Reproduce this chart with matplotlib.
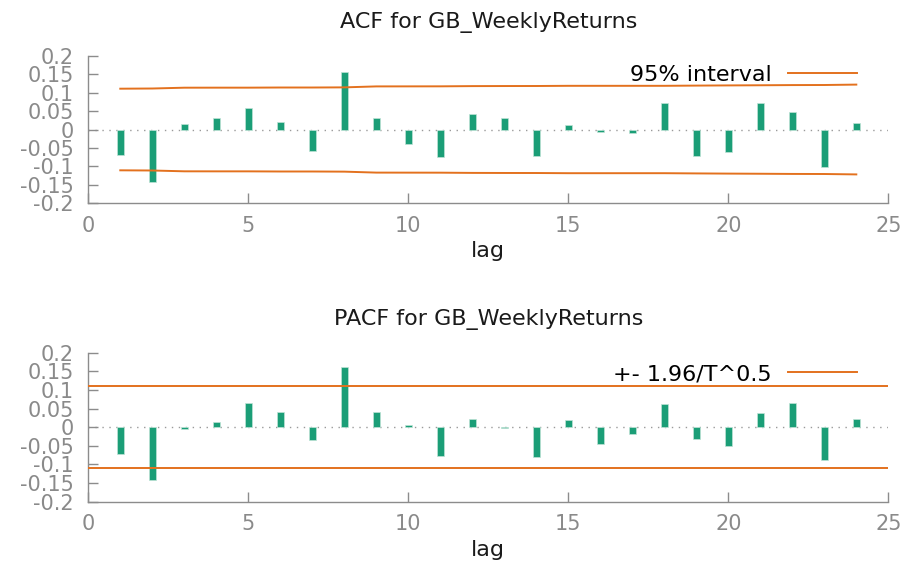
import matplotlib
matplotlib.use("Agg")
import matplotlib.pyplot as plt

lags = list(range(1, 25))
acf_values = [-0.070, -0.141, 0.016, 0.030, 0.059, 0.021, -0.057, 0.156,
              0.030, -0.038, -0.074, 0.043, 0.031, -0.071, 0.013, -0.007,
              -0.010, 0.071, -0.071, -0.061, 0.071, 0.048, -0.102, 0.017]
acf_band = [0.1106, 0.1111, 0.1133, 0.1134, 0.1134, 0.1138, 0.1138, 0.1142,
            0.1168, 0.1169, 0.1170, 0.1176, 0.1178, 0.1179, 0.1184, 0.1184,
            0.1184, 0.1184, 0.1190, 0.1195, 0.1199, 0.1204, 0.1206, 0.1217]
pacf_values = [-0.071, -0.143, -0.004, 0.013, 0.066, 0.040, -0.034, 0.163,
               0.040, 0.006, -0.077, 0.022, -0.002, -0.080, 0.020, -0.044,
               -0.017, 0.063, -0.031, -0.050, 0.037, 0.066, -0.087, 0.023]
pacf_band = 0.1095
yticks = [-0.2, -0.15, -0.1, -0.05, 0, 0.05, 0.1, 0.15, 0.2]
ytick_labels = ["-0.2", "-0.15", "-0.1", "-0.05", "0", "0.05", "0.1", "0.15", "0.2"]
xticks = [0, 5, 10, 15, 20, 25]
titles = ["ACF for GB_WeeklyReturns", "PACF for GB_WeeklyReturns"]
legend_labels = ["95% interval", "+- 1.96/T^0.5"]

GREEN = "#1b9e77"
ORANGE = "#e3711e"
GRAY = "#8c8c8c"

fig = plt.figure(figsize=(9.11, 5.69), dpi=100)
ax1 = fig.add_axes([0.0969, 0.6427, 0.8782, 0.2594])
ax2 = fig.add_axes([0.0969, 0.1183, 0.8782, 0.2618])


def style(ax, title):
    ax.set_xlim(0, 25)
    ax.set_ylim(-0.2, 0.2)
    for s in ["top", "right"]:
        ax.spines[s].set_visible(False)
    for s in ["left", "bottom"]:
        ax.spines[s].set_color(GRAY)
        ax.spines[s].set_linewidth(1.0)
    ax.set_yticks(yticks)
    ax.set_yticklabels(ytick_labels)
    ax.set_xticks(xticks)
    ax.tick_params(axis="both", direction="in", length=7.5, width=1.0,
                   color=GRAY, labelcolor="#8a8a8a", labelsize=15)
    ax.tick_params(axis="y", pad=10.5)
    ax.tick_params(axis="x", pad=9.0)
    ax.axhline(0, color="#9a9a9a", linestyle=(0, (1, 4)), linewidth=1.0, zorder=1)
    ax.set_title(title, fontsize=16, color="#1a1a1a", pad=20)
    ax.set_xlabel("lag", fontsize=16, color="#1a1a1a", labelpad=4)


style(ax1, titles[0])
ax1.bar(lags, acf_values, width=0.23, color=GREEN, edgecolor="#bfe3d6",
        linewidth=0.5, zorder=2)
line, = ax1.plot(lags, acf_band, color=ORANGE, linewidth=1.4, zorder=3,
                 label=legend_labels[0])
ax1.plot(lags, [-v for v in acf_band], color=ORANGE, linewidth=1.4, zorder=3)
ax1.legend(handles=[line], loc="center right", bbox_to_anchor=(0.961, 0.869),
           frameon=False, markerfirst=False, fontsize=16, handlelength=3.1,
           handletextpad=0.75, borderpad=0, borderaxespad=0)

style(ax2, titles[1])
ax2.bar(lags, pacf_values, width=0.23, color=GREEN, edgecolor="#bfe3d6",
        linewidth=0.5, zorder=2)
l2 = ax2.axhline(pacf_band, color=ORANGE, linewidth=1.4, zorder=3,
                 label=legend_labels[1])
ax2.axhline(-pacf_band, color=ORANGE, linewidth=1.4, zorder=3)
ax2.legend(handles=[l2], loc="center right", bbox_to_anchor=(0.961, 0.857),
           frameon=False, markerfirst=False, fontsize=16, handlelength=3.1,
           handletextpad=0.75, borderpad=0, borderaxespad=0)

fig.savefig("out.png", dpi=100)
